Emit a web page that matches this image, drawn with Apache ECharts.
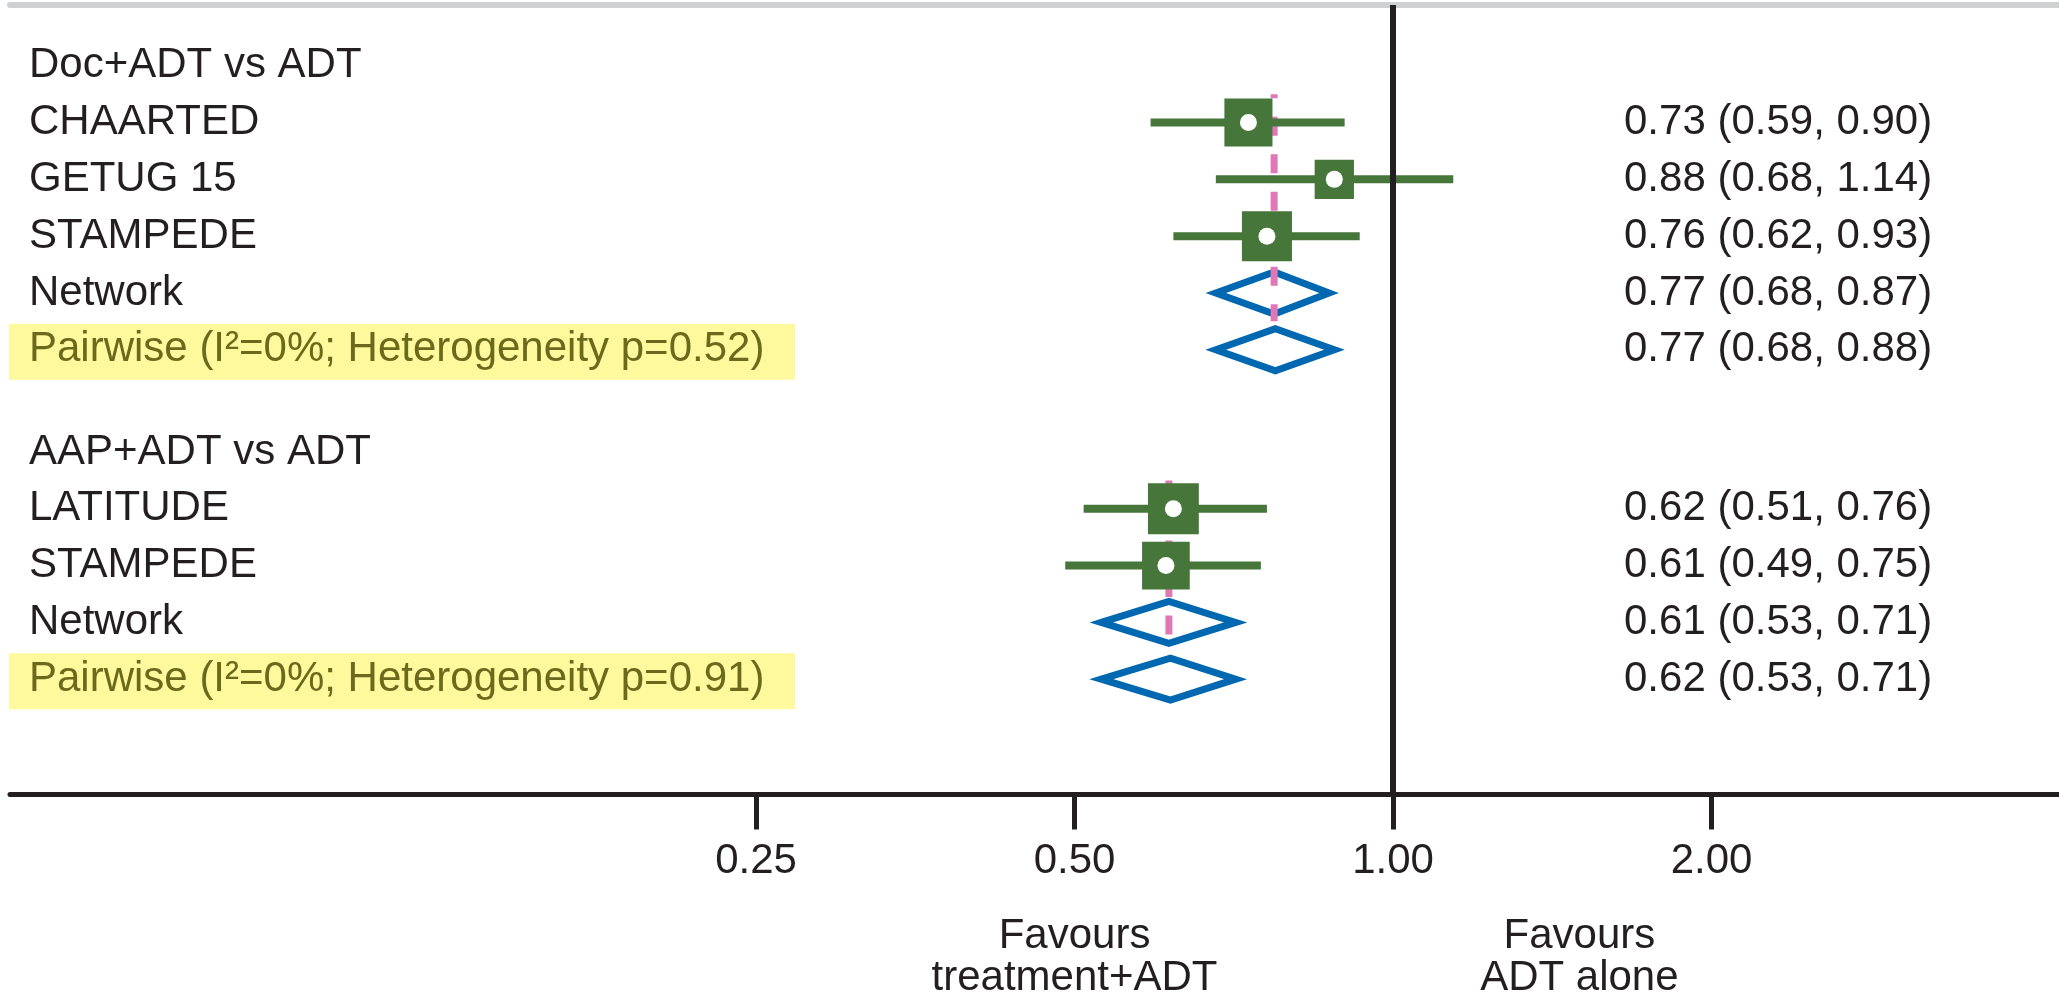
<!DOCTYPE html>
<html>
<head>
<meta charset="utf-8">
<script src="https://cdn.jsdelivr.net/npm/echarts@6/dist/echarts.min.js"></script>
<style>
  html, body { margin: 0; padding: 0; background: #fff; }
  #chart { width: 2059px; height: 996px; }
</style>
</head>
<body>
<div id="chart"></div>
<script>
// data (hazard ratios, 95% CI)
const groupTitles = ["Doc+ADT vs ADT", "AAP+ADT vs ADT"];

const docLabels = ["CHAARTED", "GETUG 15", "STAMPEDE", "Network", "Pairwise (I²=0%; Heterogeneity p=0.52)"];
const docKinds = ["study", "study", "study", "network", "pairwise"];
const docEst = [0.73, 0.88, 0.76, 0.772, 0.774];
const docLow = [0.59, 0.68, 0.62, 0.68, 0.68];
const docHigh = [0.90, 1.14, 0.93, 0.87, 0.88];

const aapLabels = ["LATITUDE", "STAMPEDE", "Network", "Pairwise (I²=0%; Heterogeneity p=0.91)"];
const aapKinds = ["study", "study", "network", "pairwise"];
const aapEst = [0.62, 0.61, 0.614, 0.616];
const aapLow = [0.51, 0.49, 0.53, 0.53];
const aapHigh = [0.76, 0.75, 0.71, 0.71];

const tickValues = [0.25, 0.5, 1, 2];
const favourTexts = ["Favours\ntreatment+ADT", "Favours\nADT alone"];
const favourAt = [0.5, 1.5];

const FONT = '"Liberation Sans", Arial, Helvetica, sans-serif';
const FS = 42;
const GREEN = "#47763a";
const BLUE = "#0067b1";
const PINK = "#e078b6";
const INK = "#231f20";

// build row list, second group sits a bit less than two rows below the first
const rows = [];
const groups = [];
function addGroup(title, start, labels, kinds, est, lo, hi) {
  rows.push({ text: title, kind: "title", y: start });
  const g = { first: null, network: null };
  labels.forEach((t, i) => {
    const r = { text: t, kind: kinds[i], y: start + i + 1, est: est[i], lo: lo[i], hi: hi[i] };
    rows.push(r);
    if (g.first === null) g.first = r;
    if (kinds[i] === "network") g.network = r;
  });
  groups.push(g);
}
addGroup(groupTitles[0], 0, docLabels, docKinds, docEst, docLow, docHigh);
addGroup(groupTitles[1], docLabels.length + 1.8, aapLabels, aapKinds, aapEst, aapLow, aapHigh);

const fmt = (v) => v.toFixed(2);

const textData = rows.map((r, i) => [1, r.y, i]);
const markRows = rows.filter((r) => r.kind !== "title");
const studyData = markRows.filter((r) => r.kind === "study").map((r) => [r.est, r.lo, r.hi, r.y]);
const diamondData = markRows.filter((r) => r.kind !== "study").map((r) => [r.est, r.lo, r.hi, r.y]);
const refData = groups.map((g) => [g.network.est, g.first.y - 0.5, g.network.y + 0.5]);

const chart = echarts.init(document.getElementById("chart"));

const option = {
  animation: false,
  grid: { left: 10, right: 0, top: 5, bottom: 201.5 },
  xAxis: [
    {
      type: "log",
      logBase: 2,
      min: 0.0493,
      max: 4.26,
      axisLine: { onZero: false, lineStyle: { color: INK, width: 5 } },
      axisTick: { customValues: tickValues, length: 35, lineStyle: { color: INK, width: 5 } },
      axisLabel: {
        customValues: tickValues,
        formatter: (v) => fmt(v),
        fontSize: FS,
        fontFamily: FONT,
        color: INK,
        margin: 46,
      },
      splitLine: { show: false },
    },
    {
      type: "log",
      logBase: 2,
      min: 0.0493,
      max: 4.26,
      position: "top",
      axisLine: { onZero: false, lineStyle: { color: "#cfd0d2", width: 6 } },
      axisTick: { show: false },
      axisLabel: { show: false },
      splitLine: { show: false },
    },
  ],
  yAxis: {
    type: "value",
    inverse: true,
    min: -1.07,
    max: 12.83,
    show: false,
  },
  series: [
    {
      // left labels, highlight boxes and the right-hand estimate column
      type: "custom",
      silent: true,
      data: textData,
      encode: { x: 0, y: 1 },
      renderItem: (params, api) => {
        const r = rows[api.value(2)];
        const y = api.coord([1, api.value(1)])[1];
        const kids = [];
        if (r.kind === "pairwise") {
          kids.push({ type: "rect", shape: { x: 9, y: y - 26, width: 786, height: 56 }, style: { fill: "#fdf99c" } });
        }
        kids.push({
          type: "text",
          x: 29,
          y: y,
          style: {
            text: r.text,
            fontSize: FS,
            fontFamily: FONT,
            fill: r.kind === "pairwise" ? "#6b691c" : INK,
            align: "left",
            verticalAlign: "middle",
          },
        });
        if (r.kind !== "title") {
          kids.push({
            type: "text",
            x: 1624,
            y: y,
            style: {
              text: fmt(r.est) + " (" + fmt(r.lo) + ", " + fmt(r.hi) + ")",
              fontSize: FS,
              fontFamily: FONT,
              fill: INK,
              align: "left",
              verticalAlign: "middle",
            },
          });
        }
        return { type: "group", children: kids };
      },
    },
    {
      // pooled estimates as open diamonds, plus the line of no effect
      type: "custom",
      silent: true,
      data: diamondData,
      encode: { x: [0, 1, 2], y: 3 },
      renderItem: (params, api) => {
        const yv = api.value(3);
        const e = api.coord([api.value(0), yv]);
        const l = api.coord([api.value(1), yv]);
        const h = api.coord([api.value(2), yv]);
        const y = e[1];
        return {
          type: "polygon",
          shape: { points: [[l[0], y], [e[0], y - 21], [h[0], y], [e[0], y + 21]] },
          style: { fill: "none", stroke: BLUE, lineWidth: 7, lineJoin: "miter" },
        };
      },
      markLine: {
        silent: true,
        symbol: ["none", "none"],
        label: { show: false },
        lineStyle: { color: INK, width: 6, type: "solid" },
        data: [{ xAxis: 1 }],
      },
    },
    {
      // dashed line through the network estimate of each comparison
      type: "custom",
      silent: true,
      data: refData,
      encode: { x: 0, y: [1, 2] },
      renderItem: (params, api) => {
        const a = api.coord([api.value(0), api.value(1)]);
        const b = api.coord([api.value(0), api.value(2)]);
        return {
          type: "line",
          shape: { x1: a[0], y1: a[1], x2: b[0], y2: b[1] },
          style: { stroke: PINK, lineWidth: 7, lineDash: [19, 18.5], lineDashOffset: 15 },
        };
      },
    },
    {
      // single trials: CI whisker, weighted square, white centre dot
      type: "custom",
      silent: true,
      data: studyData,
      encode: { x: [0, 1, 2], y: 3 },
      renderItem: (params, api) => {
        const yv = api.value(3);
        const lo = api.value(1);
        const hi = api.value(2);
        const e = api.coord([api.value(0), yv]);
        const l = api.coord([lo, yv]);
        const h = api.coord([hi, yv]);
        // square size follows inverse standard error
        const s = 20.3 / Math.log(hi / lo);
        return {
          type: "group",
          children: [
            { type: "line", shape: { x1: l[0], y1: e[1], x2: h[0], y2: e[1] }, style: { stroke: GREEN, lineWidth: 8 } },
            { type: "rect", shape: { x: e[0] - s / 2, y: e[1] - s / 2, width: s, height: s }, style: { fill: GREEN } },
            { type: "circle", shape: { cx: e[0], cy: e[1], r: 8.5 }, style: { fill: "#fff" } },
          ],
        };
      },
    },
  ],
};

chart.setOption(option);

const favY = 915;
chart.setOption({
  graphic: favourTexts.map((t, i) => ({
    type: "text",
    x: chart.convertToPixel({ xAxisIndex: 0 }, favourAt[i]),
    y: favY,
    style: {
      text: t,
      fontSize: FS,
      lineHeight: 42,
      fontFamily: FONT,
      fill: INK,
      align: "center",
      verticalAlign: "top",
    },
  })),
});
</script>
</body>
</html>
